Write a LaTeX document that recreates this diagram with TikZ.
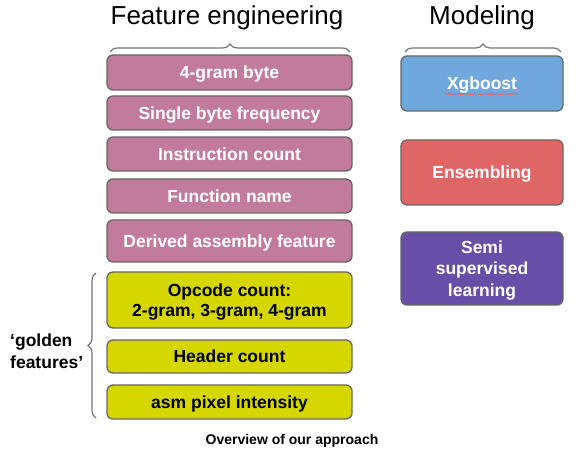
\documentclass[tikz,border=0pt]{standalone}
\usepackage{fontspec}
\setmainfont{Liberation Sans}
\usetikzlibrary{decorations.pathreplacing,decorations.pathmorphing}
\definecolor{fpink}{HTML}{C27B9D}
\definecolor{fblue}{HTML}{6FA8DC}
\definecolor{fred}{HTML}{E06666}
\definecolor{fpurple}{HTML}{674EA7}
\definecolor{fyellow}{HTML}{D6D600}
\definecolor{fborder}{HTML}{666666}
\begin{document}
\begin{tikzpicture}[x=1pt,y=-1pt,
  box/.style={draw=fborder,line width=1.3pt,rounded corners=6pt,font=\fontsize{17.5}{20}\selectfont\bfseries,align=center,inner sep=0pt,text depth=0pt},
  pinkbox/.style={box,fill=fpink,text=white,minimum width=245pt},
  yelbox/.style={box,fill=fyellow,text=black,minimum width=245pt},
  modbox/.style={box,text=white,minimum width=162pt},
  bracestyle/.style={draw=fborder!90,line width=1.2pt,decorate,decoration={brace,amplitude=8pt}},
  title/.style={font=\fontsize{26}{28}\selectfont}]
\useasboundingbox (0,0) rectangle (582,454);
% titles
\node[title] (tfe) at (227,18) {Feature engineering};
\node[title] (tmod) at (482,18) {Modeling};
% pink boxes
\node[pinkbox,minimum height=35pt] (b1) at (229.5,72.5) {4-gram byte};
\node[pinkbox,minimum height=34pt] (b2) at (229.5,113) {Single byte frequency};
\node[pinkbox,minimum height=34pt] (b3) at (229.5,154) {Instruction count};
\node[pinkbox,minimum height=34pt] (b4) at (229.5,196) {Function name};
\node[pinkbox,minimum height=42pt] (b5) at (229.5,241) {Derived assembly feature};
% yellow boxes
\node[yelbox,minimum height=56pt] (y1) at (229.5,300) {Opcode count:\\2-gram, 3-gram, 4-gram};
\node[yelbox,minimum height=33pt] (y2) at (229.5,356.5) {Header count};
\node[yelbox,minimum height=34pt] (y3) at (229.5,402) {asm pixel intensity};
% modeling boxes
\node[modbox,fill=fblue,minimum height=55pt] (m1) at (482,83.5) {Xgboost};
\node[modbox,fill=fred,minimum height=65pt] (m2) at (482,172.5) {Ensembling};
\node[modbox,fill=fpurple,minimum height=73pt,font=\fontsize{17.5}{21.5}\selectfont\bfseries] (m3) at (482,268.5) {Semi\\supervised\\learning};
% spellcheck squiggle under Xgboost
\draw[red!65,line width=0.5pt,decorate,decoration={snake,amplitude=0.7pt,segment length=2.5pt}]
  ([xshift=-36pt,yshift=-10.5pt]m1.center) -- ([xshift=36pt,yshift=-10.5pt]m1.center);
% braces
\coordinate (fbl) at (110,52);
\coordinate (fbr) at (350,52);
\draw[bracestyle] (fbl) -- (fbr);
\coordinate (mbl) at (405,52);
\coordinate (mbr) at (561,52);
\draw[bracestyle] (mbl) -- (mbr);
\coordinate (gbt) at (96,273);
\coordinate (gbb) at (96,418);
\draw[bracestyle] (gbb) -- (gbt);
% golden label
\node[font=\fontsize{17.5}{22}\selectfont\bfseries,align=left,anchor=west,inner sep=0pt] (gold) at (10,351) {‘golden\\features’};
% caption
\node[font=\fontsize{14}{16}\selectfont\bfseries] (cap) at (292,441) {Overview of our approach};
\end{tikzpicture}
\end{document}
